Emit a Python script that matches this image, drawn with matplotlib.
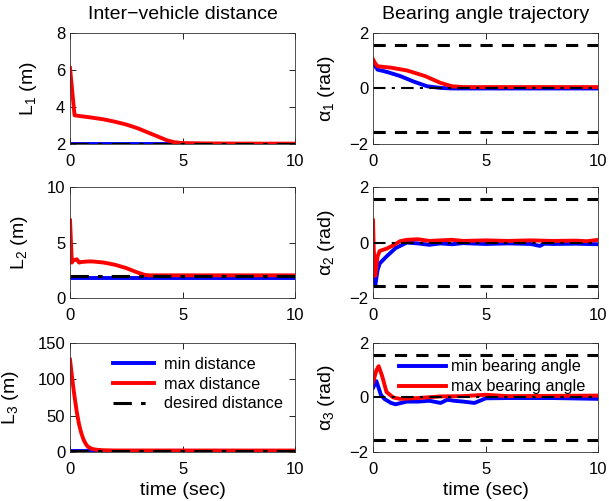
import matplotlib
matplotlib.use("Agg")
import matplotlib.pyplot as plt
import numpy as np

plt.rcParams['font.family'] = ['Liberation Sans', 'DejaVu Sans']
plt.rcParams['mathtext.fontset'] = 'custom'
plt.rcParams['mathtext.rm'] = 'Liberation Sans'
plt.rcParams['mathtext.it'] = 'Liberation Sans'

# ---- data ----
t_L1 = [0, 0.2, 0.5, 1.0, 1.5, 2.0, 2.5, 3.0, 3.5, 4.0, 4.3, 4.6, 5.0, 6, 8, 10]
L1_max = [6.1, 3.55, 3.5, 3.42, 3.33, 3.2, 3.05, 2.85, 2.6, 2.35, 2.2, 2.1, 2.05, 2.03, 2.02, 2.02]
t_L1min = [0, 10]
L1_min = [2.0, 2.0]
L1_des = 2.0

t_L2 = [0, 0.08, 0.15, 0.3, 0.4, 0.5, 0.8, 1.0, 1.5, 2.0, 2.5, 3.0, 3.3, 3.5, 5, 10]
L2_max = [7.0, 3.2, 3.4, 3.5, 3.2, 3.25, 3.3, 3.3, 3.2, 3.0, 2.7, 2.3, 2.1, 2.05, 2.05, 2.05]
t_L2min = [0, 10]
L2_min = [1.8, 1.8]
L2_des = 2.0

t_L3 = [0, 0.1, 0.2, 0.3, 0.4, 0.5, 0.6, 0.7, 0.8, 1.0, 1.2, 1.5, 2.0, 10]
L3_max = [127, 100, 76, 55, 38, 26, 17, 11, 7, 4, 3, 2.4, 2.1, 2.0]
t_L3min = [0, 10]
L3_min = [2.0, 2.0]
L3_des = 2.0

t_a1 = [0, 0.1, 0.2, 0.6, 1.2, 1.8, 2.4, 3.0, 3.5, 10]
a1_min = [0.95, 0.8, 0.68, 0.6, 0.45, 0.25, 0.08, 0.02, 0.0, 0.0]
t_a1r = [0, 0.1, 0.2, 0.8, 1.5, 2.3, 3.0, 3.5, 4.0, 10]
a1_max = [1.05, 0.9, 0.8, 0.75, 0.65, 0.45, 0.2, 0.08, 0.05, 0.05]

t_a2 = [0, 0.05, 0.1, 0.2, 0.3, 0.6, 1.0, 1.5, 2.0, 2.5, 3.0, 3.5, 4.0, 5.0, 6.0, 7.0, 7.4, 7.6, 8.0, 9.0, 10]
a2_min = [-1.1, -1.3, -1.55, -1.0, -0.75, -0.5, -0.2, 0.0, -0.03, -0.08, -0.03, -0.06, -0.02, -0.05, -0.03, -0.05, -0.12, -0.04, -0.05, -0.04, -0.06]
t_a2r = [0, 0.03, 0.1, 0.2, 0.3, 0.6, 0.9, 1.2, 1.5, 2.0, 2.5, 3.0, 3.5, 4.0, 5.0, 6.0, 7.0, 8.0, 9.0, 9.5, 10]
a2_max = [0.8, -0.2, -1.2, -0.5, -0.3, -0.22, -0.1, 0.05, 0.1, 0.12, 0.06, 0.08, 0.1, 0.06, 0.08, 0.06, 0.08, 0.06, 0.07, 0.05, 0.1]

t_a3 = [0, 0.15, 0.25, 0.35, 0.5, 0.8, 1.0, 1.5, 2.0, 2.5, 3.0, 3.3, 3.6, 4.0, 4.5, 4.8, 5.0, 6.0, 8.0, 10]
a3_min = [0.35, 0.6, 0.35, 0.1, -0.05, -0.2, -0.25, -0.15, -0.15, -0.12, -0.2, -0.08, -0.12, -0.15, -0.2, -0.1, -0.03, -0.02, -0.02, -0.05]
t_a3r = [0, 0.15, 0.25, 0.4, 0.6, 0.9, 1.2, 2.0, 3.0, 4.0, 5.0, 6.0, 8.0, 10]
a3_max = [0.55, 1.0, 1.15, 0.8, 0.2, 0.0, -0.05, -0.02, 0.04, 0.05, 0.1, 0.05, 0.06, 0.07]

bound = np.pi / 2
t_range = [0, 10]

fig = plt.figure(figsize=(6.09, 5.01), dpi=100)
lx, rx, w = 0.115, 0.6125, 0.37
rows = [(0.7126, 0.2216), (0.405, 0.2216), (0.0978, 0.2176)]

def style(ax, ylim, yticks):
    ax.set_xlim(0, 10)
    ax.set_ylim(*ylim)
    ax.set_xticks([0, 5, 10])
    ax.set_yticks(yticks)
    ax.tick_params(direction='in', top=True, right=True, labelsize=12, length=4, width=0.6)
    ax.tick_params(axis='x', pad=7)
    for s in ax.spines.values():
        s.set_linewidth(0.6)
        s.set_color('#333333')

lw = 2.8
# distance column
Ldata = [(t_L1, L1_max, t_L1min, L1_min, L1_des, (2, 8), [2, 4, 6, 8], '1'),
         (t_L2, L2_max, t_L2min, L2_min, L2_des, (0, 10), [0, 5, 10], '2'),
         (t_L3, L3_max, t_L3min, L3_min, L3_des, (0, 150), [0, 50, 100, 150], '3')]
for i, (tm, ymax, tn, ymin, des, yl, yt, k) in enumerate(Ldata):
    b, h = rows[i]
    ax = fig.add_axes([lx, b, w, h])
    ax.plot(tn, ymin, color='blue', lw=lw, label='min distance')
    ax.plot(tm, ymax, color='red', lw=lw, label='max distance')
    ax.plot(t_range, [des, des], color='black', lw=2.2, ls=(0, (6, 3, 1.5, 3)), label='desired distance')
    style(ax, yl, yt)
    ax.set_ylabel(r'$\mathregular{L_%s}$ (m)' % k, fontsize=14, labelpad=12)
    if i == 0:
        ax.set_title('Inter\u2212vehicle distance', fontsize=14, pad=10)
    if i == 2:
        ax.set_xlabel('time (sec)', fontsize=14, labelpad=4)
        ax.legend(loc='upper right', bbox_to_anchor=(1.0, 0.985), frameon=False, fontsize=11.7,
                  handlelength=2.5, borderaxespad=0.37, labelspacing=0.28, handletextpad=0.6)

Adata = [(t_a1, a1_min, t_a1r, a1_max, '1'),
         (t_a2, a2_min, t_a2r, a2_max, '2'),
         (t_a3, a3_min, t_a3r, a3_max, '3')]
for i, (tn, ymin, tm, ymax, k) in enumerate(Adata):
    b, h = rows[i]
    ax = fig.add_axes([rx, b, w, h])
    ax.plot(tn, ymin, color='blue', lw=lw, label='min bearing angle')
    ax.plot(tm, ymax, color='red', lw=lw, label='max bearing angle')
    ax.plot(t_range, [bound, bound], color='black', lw=2.2, ls=(0, (4, 3)))
    ax.plot(t_range, [-bound, -bound], color='black', lw=2.2, ls=(0, (4, 3)))
    ax.plot(t_range, [0, 0], color='black', lw=1.5, ls=(0, (6, 3, 1.5, 3)))
    style(ax, (-2, 2), [-2, 0, 2])
    ax.set_ylabel(r'$\mathregular{\alpha_%s}$ (rad)' % k, fontsize=14, labelpad=9)
    if i == 0:
        ax.set_title('Bearing angle trajectory', fontsize=14, pad=10)
    if i == 2:
        ax.set_xlabel('time (sec)', fontsize=14, labelpad=4)
        h_, l_ = ax.get_legend_handles_labels()
        ax.legend(h_[:2], l_[:2], loc='upper right', bbox_to_anchor=(1.0, 0.965), frameon=False,
                  fontsize=11.7, handlelength=2.9, borderaxespad=0.37, labelspacing=0.3,
                  handletextpad=0.35)

fig.savefig('out.png', dpi=100)
